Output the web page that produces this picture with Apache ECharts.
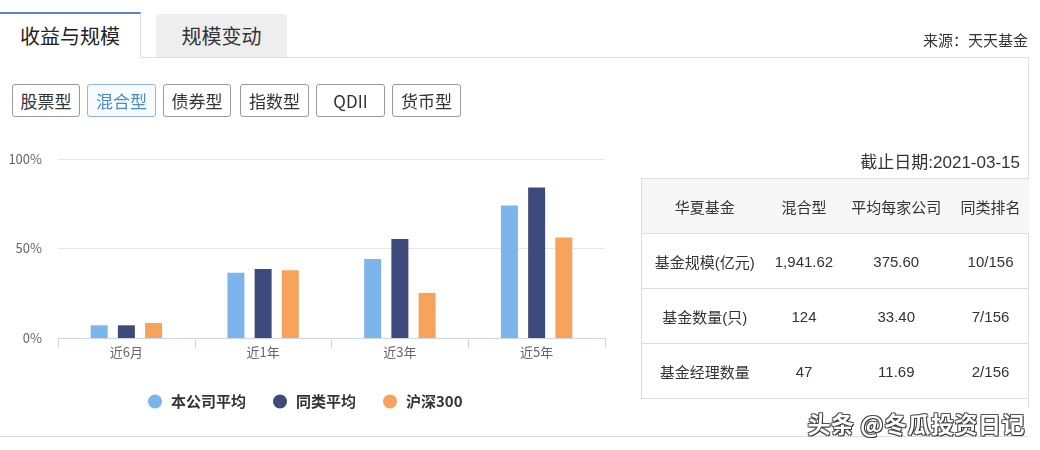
<!DOCTYPE html>
<html><head><meta charset="utf-8">
<script src="https://cdn.jsdelivr.net/npm/echarts@6/dist/echarts.min.js"></script>
<style>
html,body{margin:0;padding:0;background:#fff;width:1040px;height:450px;overflow:hidden;font-family:"Noto Sans CJK SC","Microsoft YaHei",sans-serif;}
#wrap{position:relative;width:1040px;height:450px;}
#chart{position:absolute;left:0;top:0;width:1040px;height:450px;}
.abs{position:absolute;white-space:nowrap;}
.tab1{left:0;top:12px;width:141px;height:45px;border-top:2px solid #5b86c0;border-right:1px solid #ddd;box-sizing:border-box;font-size:20px;color:#222;text-align:center;line-height:44px;background:#fff;}
.tab2{left:156px;top:14px;width:131px;height:43px;background:#eeeeee;border-radius:4px 4px 0 0;font-size:20px;color:#333;text-align:center;line-height:43px;}
.panelTop{left:141px;top:57px;width:888px;height:1px;background:#ddd;}
.panelRight{left:1028px;top:57px;width:1px;height:350px;background:#ddd;}
.src{right:12px;top:29px;font-size:15px;color:#333;}
.btn{top:84px;height:33px;box-sizing:border-box;border:1px solid #999;border-radius:3px;font-size:17px;color:#333;text-align:center;line-height:31px;background:#fff;}
.btn.on{color:#4a8bc4;border-color:#8fb6d6;background:#f7fbfe;}
.date{right:20px;top:148px;font-size:17px;color:#333;font-family:"Liberation Sans","Noto Sans CJK SC",sans-serif;}
table{position:absolute;left:641px;top:178px;width:388px;border-collapse:collapse;font-size:15px;color:#333;font-family:"Liberation Sans","Noto Sans CJK SC",sans-serif;}
td{border-top:1px solid #ddd;border-bottom:1px solid #ddd;height:54px;text-align:center;padding:0;}
td:first-child{border-left:1px solid #ddd;}
tr.h td{background:#f7f7f7;}
.bottomLine{left:0;top:436px;width:1028px;height:1px;background:#ddd;}
.wm{right:15px;top:406px;font-size:23px;font-weight:bold;color:#fff;letter-spacing:0.5px;text-shadow:1px 1px 0 #333,-1px -1px 0 #555,1px -1px 0 #555,-1px 1px 0 #555;}
</style></head>
<body><div id="wrap">
<div id="chart"></div>
<div class="abs tab1">收益与规模</div>
<div class="abs tab2">规模变动</div>
<div class="abs panelTop"></div>
<div class="abs panelRight"></div>
<div class="abs src">来源：天天基金</div>
<div id="btns"></div>
<div class="abs date" id="date"></div>
<table id="tbl"></table>
<div class="abs bottomLine"></div>
<div class="abs wm">头条 @冬瓜投资日记</div>
</div>
<script>
// ---- data ----
const categories = ['近6月', '近1年', '近3年', '近5年'];
const seriesNames = ['本公司平均', '同类平均', '沪深300'];
const companyAvg = [7.1, 36.4, 44.1, 74.0];
const peerAvg = [7.1, 38.5, 55.3, 84.1];
const hs300 = [8.4, 37.9, 25.2, 56.1];
const yTicks = [0, 50, 100];
const fundTypes = ['股票型', '混合型', '债券型', '指数型', 'QDII', '货币型'];
const activeType = '混合型';
const tableHeader = ['华夏基金', '混合型', '平均每家公司', '同类排名'];
const tableRows = [
  ['基金规模(亿元)', '1,941.62', '375.60', '10/156'],
  ['基金数量(只)', '124', '33.40', '7/156'],
  ['基金经理数量', '47', '11.69', '2/156']
];
const asOfDate = '2021-03-15';

// ---- chrome ----
document.getElementById('date').textContent = '截止日期:' + asOfDate;
const btnPos = [[12,68],[87,69],[163,68],[240,69],[316,69],[392,69]];
const btns = document.getElementById('btns');
fundTypes.forEach((t,i)=>{
  const d = document.createElement('div');
  d.className = 'abs btn' + (t===activeType?' on':'');
  d.style.left = btnPos[i][0]+'px'; d.style.width = btnPos[i][1]+'px';
  d.textContent = t; btns.appendChild(d);
});
const colW = [126,73,112,77];
const tbl = document.getElementById('tbl');
[tableHeader].concat(tableRows).forEach((r,ri)=>{
  const tr = document.createElement('tr'); if(ri===0) tr.className='h';
  r.forEach((c,ci)=>{const td=document.createElement('td');td.textContent=c;
    td.style.width=colW[ci]+'px'; tr.appendChild(td);});
  tbl.appendChild(tr);
});

// ---- chart ----
const colors = ['#7cb5ec', '#3e4a7b', '#f7a35c'];
const chart = echarts.init(document.getElementById('chart'), null, {renderer:'canvas'});
const ff = '"Noto Sans CJK SC","Microsoft YaHei",sans-serif';
chart.setOption({
  animation:false,
  color: colors,
  textStyle:{fontFamily:ff},
  grid:{left:58, top:159, width:547, height:179, containLabel:false},
  legend:{
    left:143, top:389, icon:'circle', itemWidth:14, itemHeight:14, itemGap:27,
    data: seriesNames,
    textStyle:{fontSize:15, fontWeight:'bold', color:'#333', fontFamily:ff, padding:[0,0,0,4]}
  },
  xAxis:{
    type:'category', data:categories,
    axisLine:{lineStyle:{color:'#ccd6eb'}},
    axisTick:{show:true, length:10, lineStyle:{color:'#ccd6eb'}},
    axisLabel:{color:'#666', fontSize:13, margin:8, fontFamily:ff}
  },
  yAxis:{
    type:'value', min:yTicks[0], max:yTicks[yTicks.length-1], interval:yTicks[1]-yTicks[0],
    axisLine:{show:false}, axisTick:{show:false},
    axisLabel:{formatter:'{value}%', color:'#666', fontSize:13, margin:16, fontFamily:ff},
    splitLine:{lineStyle:{color:'#e6e6e6'}}
  },
  series:[
    {name:seriesNames[0], type:'bar', data:companyAvg, barWidth:17, barGap:'60%'},
    {name:seriesNames[1], type:'bar', data:peerAvg, barWidth:17, barGap:'60%'},
    {name:seriesNames[2], type:'bar', data:hs300, barWidth:17, barGap:'60%'}
  ]
});
</script>
</body></html>
